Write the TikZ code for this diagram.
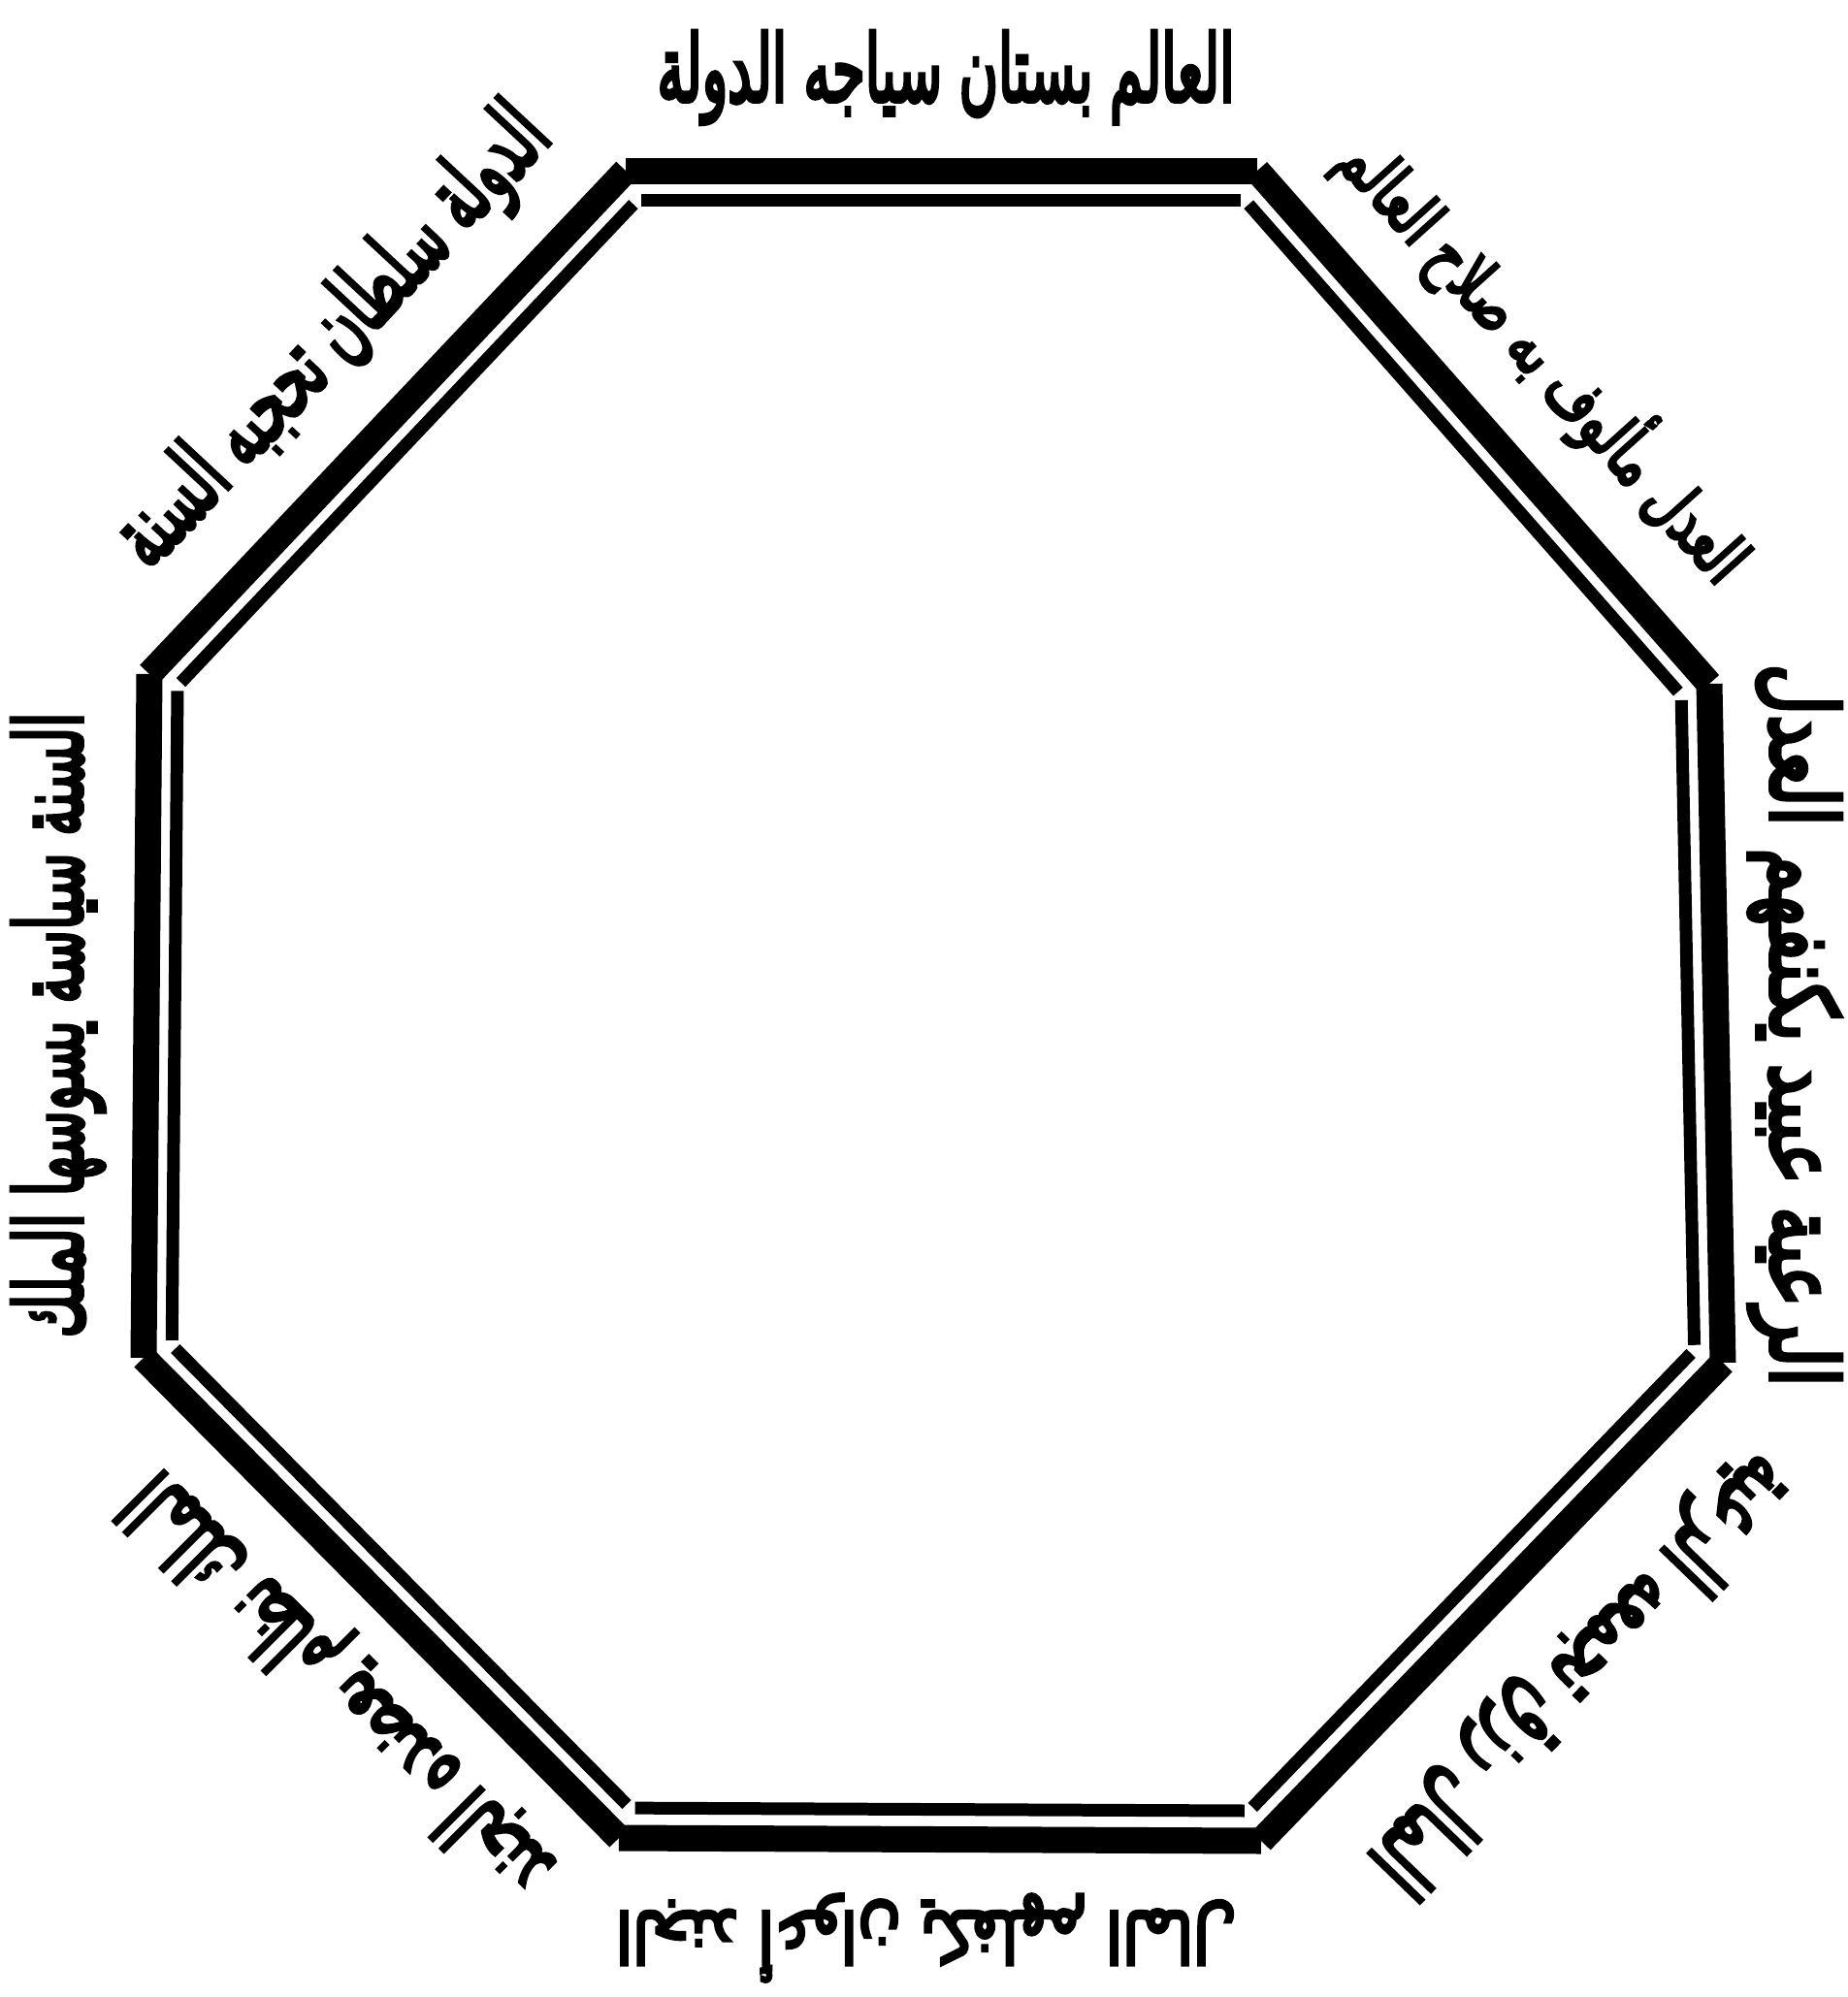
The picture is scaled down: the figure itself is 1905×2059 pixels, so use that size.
\documentclass[tikz,border=0pt]{standalone}
\usepackage{fontspec}
\newfontfamily\arabicfont[Script=Arabic, FakeBold=5]{DejaVu Sans}
\TeXXeTstate=1
\usetikzlibrary{calc}

\tikzset{
  outerbar/.style={line width=0.54cm, line cap=butt},
  innerbar/.style={line width=0.26cm, line cap=butt, shorten <=0.1cm, shorten >=0.1cm},
  saying/.style={inner sep=0pt, anchor=center, font=\arabicfont},
}
% width (cm) of a saying, then its text
\newcommand{\saytext}[2]{\resizebox{#1cm}{1.45cm}{#2}}

\begin{document}
\begin{tikzpicture}[x=0.02cm, y=-0.02cm]
\useasboundingbox (0,0) rectangle (1905,2059);

% corners of the frame, clockwise from the top left
\coordinate (c) at (960,1037);
\coordinate (o1) at (645,176);
\coordinate (o2) at (1296,176);
\coordinate (o3) at (1762,705);
\coordinate (o4) at (1776,1405);
\coordinate (o5) at (1300,1898);
\coordinate (o6) at (638,1895);
\coordinate (o7) at (148,1400);
\coordinate (o8) at (154,695);
\foreach \i in {1,...,8}
  \coordinate (i\i) at ($(c)!0.964!(o\i)$);

% the eight double bars
\foreach \i/\j in {1/2,2/3,3/4,4/5,5/6,6/7,7/8,8/1} {
  \draw[outerbar] (o\i) -- (o\j);
  \draw[innerbar] (i\i) -- (i\j);
}

% the sayings round the frame
\node[saying] (world) at (975,80) {\saytext{11.9}{\beginR العالم بستان سياجه الدولة\endR}};
\node[saying, rotate=47] (state) at (345,350) {\saytext{12.2}{\beginR الدولة سلطان تحجبه السنة\endR}};
\node[saying, rotate=90] (sunna) at (60,1057) {\saytext{12.9}{\beginR السنة سياسة يسوسها الملك\endR}};
\node[saying, rotate=135] (king) at (352,1735) {\saytext{11.6}{\beginR الملك نظام يعضده الجند\endR}};
\node[saying, rotate=180] (army) at (955,1998) {\saytext{12.8}{\beginR الجند أعوان يكفلهم المال\endR}};
\node[saying, rotate=226] (money) at (1628,1722) {\saytext{11.7}{\beginR المال رزق تجمعه الرعية\endR}};
\node[saying, rotate=-90] (subjects) at (1850,1057) {\saytext{14.9}{\beginR الرعية عبيد يكنفهم العدل\endR}};
\node[saying, rotate=-48] (justice) at (1594,368) {\saytext{11.8}{\beginR العدل مألوف به صلاح العالم\endR}};
\end{tikzpicture}
\end{document}
